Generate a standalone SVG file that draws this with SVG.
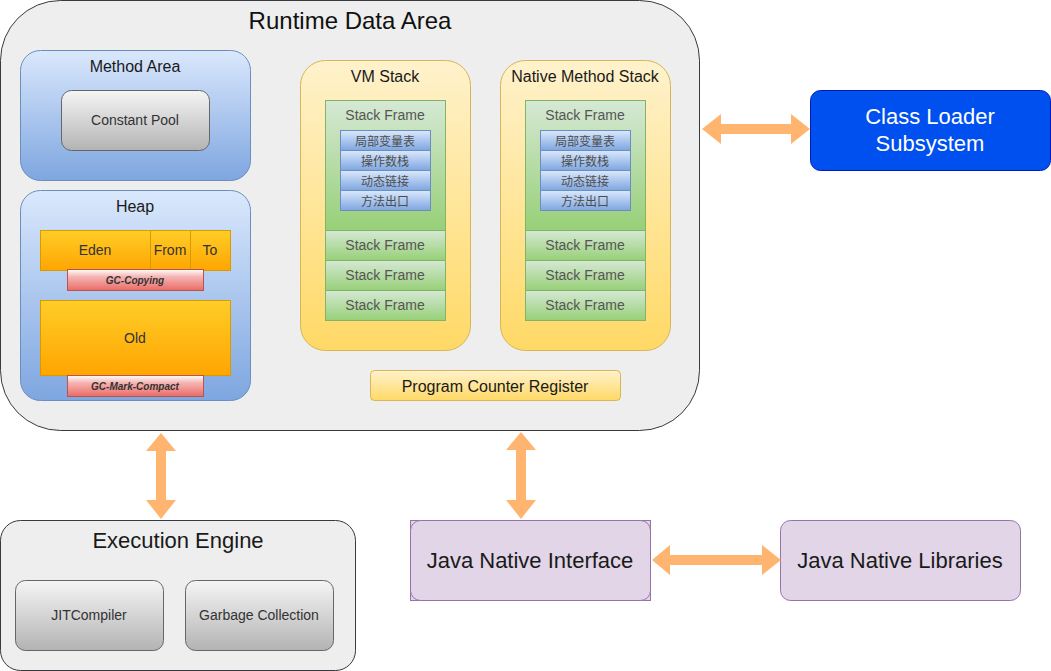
<svg xmlns="http://www.w3.org/2000/svg" width="1051" height="671" viewBox="0 0 1051 671">
<defs>
<linearGradient id="gBlue" x1="0" y1="0" x2="0" y2="1"><stop offset="0" stop-color="#dae8fc"/><stop offset="1" stop-color="#7ea6e0"/></linearGradient>
<linearGradient id="gGray" x1="0" y1="0" x2="0" y2="1"><stop offset="0" stop-color="#f5f5f5"/><stop offset="1" stop-color="#b3b3b3"/></linearGradient>
<linearGradient id="gOrange" x1="0" y1="0" x2="0" y2="1"><stop offset="0" stop-color="#ffcd28"/><stop offset="1" stop-color="#ffa500"/></linearGradient>
<linearGradient id="gRed" x1="0" y1="0" x2="0" y2="1"><stop offset="0" stop-color="#ffffff"/><stop offset="0.35" stop-color="#f5b4b2"/><stop offset="1" stop-color="#ea6b66"/></linearGradient>
<linearGradient id="gYellow" x1="0" y1="0" x2="0" y2="1"><stop offset="0" stop-color="#fff2cc"/><stop offset="1" stop-color="#ffd966"/></linearGradient>
<linearGradient id="gGreen" x1="0" y1="0" x2="0" y2="1"><stop offset="0" stop-color="#d5e8d4"/><stop offset="1" stop-color="#97d077"/></linearGradient>
</defs>
<style>
text{font-family:"Liberation Sans",Arial,"Noto Sans CJK SC",sans-serif;text-anchor:middle;dominant-baseline:central}
.container{fill:#eeeeee;stroke:#36393d;stroke-width:1}
.blue{fill:url(#gBlue);stroke:#6c8ebf}
.gray{fill:url(#gGray);stroke:#666666}
.orange{fill:url(#gOrange);stroke:#d79b00}
.red{fill:url(#gRed);stroke:#b85450}
.yellow{fill:url(#gYellow);stroke:#d6b656}
.green{fill:url(#gGreen);stroke:#82b366}
.purple{fill:#e1d5e7;stroke:#9673a6}
.t16{font-size:16px;fill:#1a1a1a}
.t14{font-size:14px;fill:#333333}
.sf{font-size:14px;fill:#555555}
.cn{font-size:12px;fill:#4d4d4d;font-family:"Noto Sans CJK SC","Liberation Sans",sans-serif}
.gc{font-size:10px;font-weight:bold;font-style:italic;fill:#333333}
.big{font-size:22px;fill:#1a1a1a}
.arrow{fill:#ffb570;stroke:none}
</style>

<g id="runtime-data-area">
<rect class="container" x="0.5" y="0.5" width="699" height="430" rx="60"/>
<text x="350" y="20" style="font-size:24px;fill:#111">Runtime Data Area</text>
</g>

<g id="method-area">
<rect class="blue" x="20.5" y="50.5" width="230" height="130" rx="20"/>
<text class="t16" x="135" y="66">Method Area</text>
</g>
<g id="constant-pool">
<rect class="gray" x="61.5" y="90.5" width="148" height="60" rx="10"/>
<text class="t14" x="135" y="120">Constant Pool</text>
</g>

<g id="heap">
<rect class="blue" x="20.5" y="190.5" width="230" height="210" rx="20"/>
<text class="t16" x="135" y="206">Heap</text>
</g>
<g id="eden">
<rect class="orange" x="40.5" y="230.5" width="110" height="40"/>
<text class="t14" x="95" y="250">Eden</text>
</g>
<g id="from">
<rect class="orange" x="150.5" y="230.5" width="40" height="40"/>
<text class="t14" x="170" y="250">From</text>
</g>
<g id="to">
<rect class="orange" x="190.5" y="230.5" width="40" height="40"/>
<text class="t14" x="210" y="250">To</text>
</g>
<g id="gc-copying">
<rect class="red" x="67.5" y="269.5" width="136" height="21"/>
<text class="gc" x="135" y="280">GC-Copying</text>
</g>
<g id="old">
<rect class="orange" x="40.5" y="300.5" width="190" height="75"/>
<text class="t14" x="135" y="338">Old</text>
</g>
<g id="gc-mark-compact">
<rect class="red" x="67.5" y="375.5" width="136" height="21"/>
<text class="gc" x="135" y="386">GC-Mark-Compact</text>
</g>

<g id="vm-stack">
<rect class="yellow" x="300.5" y="60.5" width="170" height="290" rx="25"/>
<text class="t16" x="385" y="76">VM Stack</text>
<rect class="green" x="325.5" y="100.5" width="120" height="130"/>
<text class="sf" x="385" y="115">Stack Frame</text>
<rect class="blue" x="340.5" y="130.5" width="90" height="20"/>
<text class="cn" x="385" y="140">局部变量表</text>
<rect class="blue" x="340.5" y="150.5" width="90" height="20"/>
<text class="cn" x="385" y="160">操作数栈</text>
<rect class="blue" x="340.5" y="170.5" width="90" height="20"/>
<text class="cn" x="385" y="180">动态链接</text>
<rect class="blue" x="340.5" y="190.5" width="90" height="20"/>
<text class="cn" x="385" y="200">方法出口</text>
<rect class="green" x="325.5" y="230.5" width="120" height="30"/>
<text class="sf" x="385" y="245">Stack Frame</text>
<rect class="green" x="325.5" y="260.5" width="120" height="30"/>
<text class="sf" x="385" y="275">Stack Frame</text>
<rect class="green" x="325.5" y="290.5" width="120" height="30"/>
<text class="sf" x="385" y="305">Stack Frame</text>
</g>

<g id="native-method-stack">
<rect class="yellow" x="500.5" y="60.5" width="170" height="290" rx="25"/>
<text class="t16" x="585" y="76">Native Method Stack</text>
<rect class="green" x="525.5" y="100.5" width="120" height="130"/>
<text class="sf" x="585" y="115">Stack Frame</text>
<rect class="blue" x="540.5" y="130.5" width="90" height="20"/>
<text class="cn" x="585" y="140">局部变量表</text>
<rect class="blue" x="540.5" y="150.5" width="90" height="20"/>
<text class="cn" x="585" y="160">操作数栈</text>
<rect class="blue" x="540.5" y="170.5" width="90" height="20"/>
<text class="cn" x="585" y="180">动态链接</text>
<rect class="blue" x="540.5" y="190.5" width="90" height="20"/>
<text class="cn" x="585" y="200">方法出口</text>
<rect class="green" x="525.5" y="230.5" width="120" height="30"/>
<text class="sf" x="585" y="245">Stack Frame</text>
<rect class="green" x="525.5" y="260.5" width="120" height="30"/>
<text class="sf" x="585" y="275">Stack Frame</text>
<rect class="green" x="525.5" y="290.5" width="120" height="30"/>
<text class="sf" x="585" y="305">Stack Frame</text>
</g>

<g id="program-counter-register">
<rect class="yellow" x="370.5" y="370.5" width="250" height="30" rx="4"/>
<text class="t16" x="495" y="386">Program Counter Register</text>
</g>

<g id="class-loader-subsystem">
<rect x="810.5" y="90.5" width="240" height="80" rx="10" fill="#0050ef" stroke="#001dbc"/>
<text x="930" y="116" style="font-size:22px;fill:#ffffff">Class Loader</text>
<text x="930" y="143" style="font-size:22px;fill:#ffffff">Subsystem</text>
</g>

<g id="execution-engine">
<rect class="container" x="0.5" y="520.5" width="355" height="150" rx="20"/>
<text class="big" x="178" y="540">Execution Engine</text>
</g>
<g id="jit-compiler">
<rect class="gray" x="15.5" y="580.5" width="148" height="70" rx="10"/>
<text class="t14" x="89" y="615">JITCompiler</text>
</g>
<g id="garbage-collection">
<rect class="gray" x="185.5" y="580.5" width="148" height="70" rx="10"/>
<text class="t14" x="259" y="615">Garbage Collection</text>
</g>

<g id="java-native-interface">
<rect x="410.5" y="520.5" width="240" height="80" fill="#e1d5e7" stroke="#9673a6"/>
<rect class="purple" x="410.5" y="520.5" width="240" height="80" rx="10"/>
<text class="big" x="530" y="560">Java Native Interface</text>
</g>
<g id="java-native-libraries">
<rect class="purple" x="780.5" y="520.5" width="240" height="80" rx="10"/>
<text class="big" x="900" y="560">Java Native Libraries</text>
</g>

<g id="connectors">
<polygon class="arrow" points="702,129 721,114 721,124 791,124 791,114 810,129 791,144 791,134 721,134 721,144"/>
<polygon class="arrow" points="161,433 176,451 166,451 166,500 176,500 161,519 146,500 156,500 156,451 146,451"/>
<polygon class="arrow" points="521,432 536,450 526,450 526,500 536,500 521,519 506,500 516,500 516,450 506,450"/>
<polygon class="arrow" points="652,560 670,545 670,555 762,555 762,545 781,560 762,575 762,565 670,565 670,575"/>
</g>
</svg>
